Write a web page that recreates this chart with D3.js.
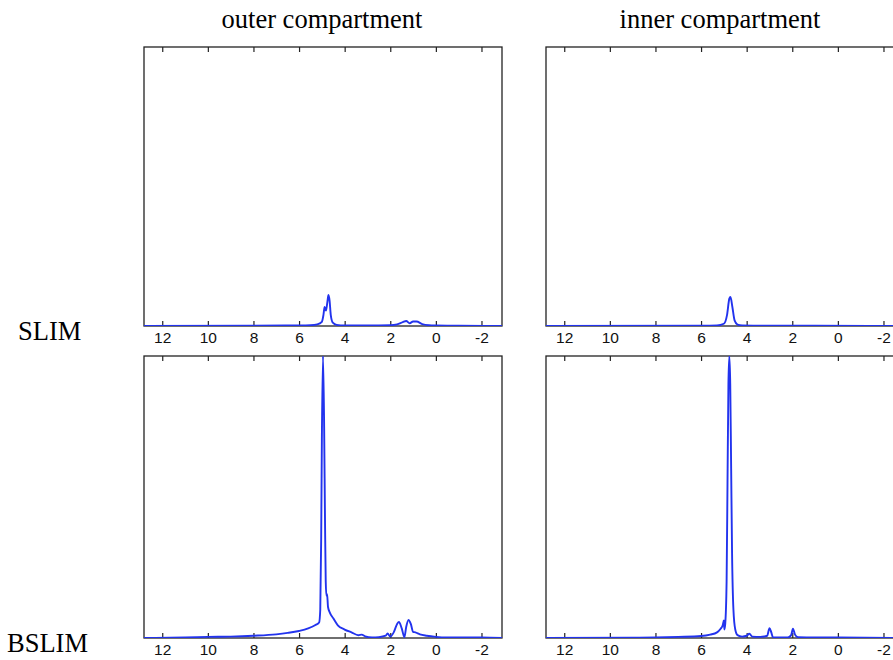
<!DOCTYPE html>
<html>
<head>
<meta charset="utf-8">
<script src="https://cdn.jsdelivr.net/npm/d3@7"></script>
<style>
  body { margin: 0; background: #fff; }
  svg { display: block; }
</style>
</head>
<body>
<div id="chart"><svg></svg></div>
<script>
// column and row titles
const colTitles = ["outer compartment", "inner compartment"];
const rowTitles = ["SLIM", "BSLIM"];
const xTicks = [12, 10, 8, 6, 4, 2, 0, -2];

// spectra: [ppm, intensity]
const slimOuter = [
  [12.8, 0], [8, 0.001], [6, 0.002], [5.5, 0.003], [5.2, 0.006], [5.0, 0.015],
  [4.93, 0.04], [4.88, 0.068], [4.82, 0.055], [4.76, 0.085], [4.71, 0.111],
  [4.66, 0.09], [4.61, 0.04], [4.52, 0.012], [4.35, 0.004], [4.0, 0.002],
  [3.0, 0.002], [2.0, 0.003], [1.7, 0.006], [1.45, 0.014], [1.3, 0.018],
  [1.15, 0.01], [1.0, 0.016], [0.85, 0.016], [0.6, 0.007], [0.3, 0.003],
  [0, 0.002], [-1, 0.001], [-2.9, 0]
];
const slimInner = [
  [12.8, 0], [6, 0.001], [5.3, 0.002], [5.0, 0.008], [4.86, 0.04],
  [4.76, 0.098], [4.71, 0.104], [4.63, 0.07], [4.53, 0.02], [4.4, 0.005],
  [4.2, 0.002], [3, 0.001], [1, 0.001], [-2.9, 0]
];
const bslimOuter = [
  [12.8, 0], [11, 0.002], [10, 0.004], [9, 0.005], [8, 0.008], [7, 0.013],
  [6.5, 0.018], [6, 0.025], [5.6, 0.034], [5.3, 0.045], [5.12, 0.055],
  [5.07, 0.1], [5.03, 0.35], [5.0, 0.7], [4.95, 1.0], [4.9, 0.75],
  [4.86, 0.4], [4.83, 0.2], [4.8, 0.15], [4.77, 0.155], [4.73, 0.11],
  [4.65, 0.09], [4.5, 0.07], [4.3, 0.045], [4.0, 0.03], [3.7, 0.02],
  [3.4, 0.01], [3.25, 0.012], [3.1, 0.006], [2.8, 0.002], [2.5, 0.003],
  [2.2, 0.008], [2.12, 0.016], [2.0, 0.005], [1.85, 0.02], [1.7, 0.05],
  [1.62, 0.057], [1.5, 0.035], [1.38, 0.003], [1.3, 0.04], [1.2, 0.064],
  [1.1, 0.05], [1.0, 0.022], [0.9, 0.02], [0.7, 0.013], [0.4, 0.008],
  [0, 0.004], [-0.5, 0.002], [-2, 0.002], [-2.9, 0]
];
const bslimInner = [
  [12.8, 0], [9, 0.001], [8, 0.002], [7, 0.004], [6, 0.007], [5.6, 0.012],
  [5.3, 0.02], [5.15, 0.032], [5.05, 0.045], [5.0, 0.062], [4.98, 0.03],
  [4.94, 0.05], [4.88, 0.2], [4.84, 0.55], [4.8, 0.9], [4.76, 1.0],
  [4.72, 0.9], [4.68, 0.6], [4.64, 0.3], [4.58, 0.1], [4.5, 0.03],
  [4.4, 0.01], [4.2, 0.005], [4.0, 0.008], [3.88, 0.015], [3.75, 0.005],
  [3.4, 0.004], [3.1, 0.008], [3.0, 0.035], [2.92, 0.02], [2.85, 0.003],
  [2.2, 0.002], [2.05, 0.01], [1.97, 0.033], [1.88, 0.012], [1.75, 0.003],
  [1, 0.002], [0, 0.002], [-2.9, 0]
];

const spectra = [[slimOuter, slimInner], [bslimOuter, bslimInner]];

// layout
const width = 893, height = 660;
const panelW = 358;
const colLeft = [144, 546];
const rowTop = [47, 356];
const rowH = [279, 282];
const serif = "'Liberation Serif', 'DejaVu Serif', serif";

const svg = d3.select("#chart svg").attr("width", width).attr("height", height);

const x = d3.scaleLinear().domain([12.8, -2.9]).range([0, panelW]);

// column titles
colTitles.forEach(function (t, c) {
  svg.append("text")
    .attr("x", colLeft[c] + (c == 0 ? panelW / 2 - 1 : panelW / 2 - 5))
    .attr("y", 28)
    .attr("text-anchor", "middle")
    .style("font-family", serif)
    .style("font-size", "26.5px")
    .text(t);
});

// row titles
svg.append("text").attr("x", 18).attr("y", 340)
  .style("font-family", serif).style("font-size", "26.5px")
  .text(rowTitles[0]);
svg.append("text").attr("x", 7).attr("y", 652)
  .style("font-family", serif).style("font-size", "26.5px")
  .text(rowTitles[1]);

rowTop.forEach(function (top, r) {
  colLeft.forEach(function (left, c) {
    const h = rowH[r];
    const y = d3.scaleLinear().domain([0, 1]).range([h, 0]);
    const g = svg.append("g").attr("transform", "translate(" + left + "," + top + ")");

    const clipId = "clip" + r + c;
    g.append("clipPath").attr("id", clipId)
      .append("rect").attr("x", 0).attr("y", 0).attr("width", panelW).attr("height", h);

    // frame
    g.append("rect")
      .attr("width", panelW).attr("height", h)
      .attr("fill", "none").attr("stroke", "#222").attr("stroke-width", 1.3);

    // bottom axis, inward ticks
    const xa = g.append("g")
      .attr("transform", "translate(0," + h + ")")
      .call(d3.axisBottom(x).tickValues(xTicks).tickSize(-5).tickPadding(6).tickFormat(d3.format("d")));
    xa.select(".domain").remove();
    xa.selectAll("line").attr("stroke", "#222").attr("stroke-width", 1.2);
    xa.selectAll("text")
      .style("font-family", "'Liberation Sans', Arial, sans-serif")
      .style("font-size", "15.5px")
      .attr("fill", "#111")
      .text(function (d) { return d < 0 ? "-" + Math.abs(d) : d; });

    // top axis, inward ticks, no labels
    const xt = g.append("g")
      .call(d3.axisTop(x).tickValues(xTicks).tickSize(-5).tickFormat(""));
    xt.select(".domain").remove();
    xt.selectAll("line").attr("stroke", "#222").attr("stroke-width", 1.2);

    const line = d3.line()
      .x(function (d) { return x(d[0]); })
      .y(function (d) { return y(d[1]); })
      .curve(d3.curveMonotoneX);

    g.append("path")
      .datum(spectra[r][c])
      .attr("clip-path", "url(#" + clipId + ")")
      .attr("d", line)
      .attr("fill", "none")
      .attr("stroke", "#2233ee")
      .attr("stroke-width", 1.9)
      .attr("stroke-linejoin", "round");
  });
});
</script>
</body>
</html>
